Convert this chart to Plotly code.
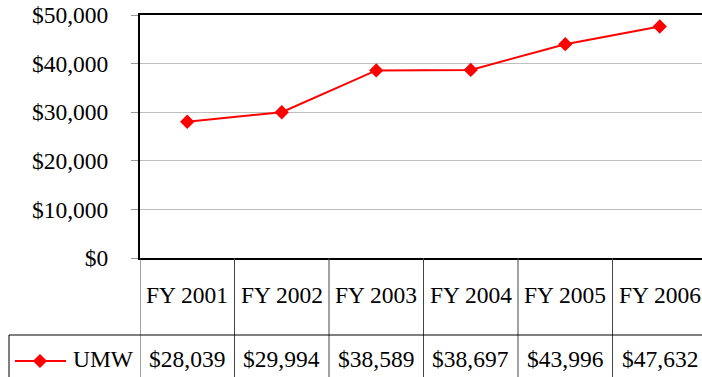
import plotly.graph_objects as go

# Fiscal years and UMW values
years = ["FY 2001", "FY 2002", "FY 2003", "FY 2004", "FY 2005", "FY 2006"]
umw = [28039, 29994, 38589, 38697, 43996, 47632]
series_name = "UMW"
y_ticks = [0, 10000, 20000, 30000, 40000, 50000]

W, H = 702, 377
FONT = dict(family="'Liberation Serif', 'Times New Roman', Times, serif",
            size=23.5, color="black")
RED = "#ff0000"

# pixel layout of the plot area and the data table beneath it
plot_left, plot_top, plot_bottom = 140, 15, 258
col_w = 94.5
row_split = 335
header_y, value_y = 295, 359


def px(x):
    return x / W


def py(y):
    return 1 - y / H


idx = list(range(len(years)))

fig = go.Figure()
fig.add_trace(go.Scatter(
    x=idx, y=umw, mode="lines+markers", name=series_name,
    line=dict(color=RED, width=2),
    marker=dict(symbol="diamond", size=11, color=RED),
    showlegend=False, cliponaxis=False,
))

x_max = -0.5 + (W - plot_left) / col_w

shapes = []
# vertical column dividers of the table
for k in range(len(years)):
    shapes.append(dict(type="line", xref="x", yref="paper",
                       x0=k - 0.5, x1=k - 0.5, y0=py(plot_bottom), y1=0,
                       line=dict(color="#444444", width=1)))
# row divider and legend cell border
shapes.append(dict(type="line", xref="paper", yref="paper",
                   x0=px(9), x1=1, y0=py(row_split), y1=py(row_split),
                   line=dict(color="black", width=1)))
shapes.append(dict(type="line", xref="paper", yref="paper",
                   x0=px(9), x1=px(9), y0=py(row_split), y1=0,
                   line=dict(color="black", width=1)))
# legend key: line with a diamond
shapes.append(dict(type="line", xref="paper", yref="paper",
                   x0=px(15), x1=px(66), y0=py(361), y1=py(361),
                   line=dict(color=RED, width=2)))
cx, cy, r = 40, 361, 6.8
shapes.append(dict(
    type="path", xref="paper", yref="paper",
    path=(f"M{px(cx - r)},{py(cy)} L{px(cx)},{py(cy - r)} "
          f"L{px(cx + r)},{py(cy)} L{px(cx)},{py(cy + r)} Z"),
    fillcolor=RED, line=dict(color=RED, width=0.5)))

annotations = []
for i, (yr, v) in enumerate(zip(years, umw)):
    annotations.append(dict(x=i, y=py(header_y), xref="x", yref="paper",
                             text=yr, showarrow=False, font=FONT,
                             xanchor="center", yanchor="middle"))
    annotations.append(dict(x=i, y=py(value_y), xref="x", yref="paper",
                             text=f"${v:,}", showarrow=False, font=FONT,
                             xanchor="center", yanchor="middle"))
annotations.append(dict(x=px(71), y=py(value_y), xref="paper", yref="paper",
                        text=series_name, showarrow=False, font=FONT,
                        xanchor="left", yanchor="middle"))

fig.update_layout(
    template="none",
    width=W, height=H,
    margin=dict(l=0, r=0, t=0, b=0, autoexpand=False),
    paper_bgcolor="white", plot_bgcolor="white",
    font=FONT,
    showlegend=False,
    shapes=shapes,
    annotations=annotations,
    xaxis=dict(
        domain=[px(plot_left), 1],
        range=[-0.5, x_max],
        automargin=False,
        showticklabels=False, showgrid=False, zeroline=False,
        showline=True, linecolor="black", linewidth=2, mirror=True,
        ticks="",
    ),
    yaxis=dict(
        domain=[py(plot_bottom), py(plot_top)],
        range=[0, 50000],
        automargin=False,
        tickvals=y_ticks,
        tickformat="$,.0f",
        tickfont=FONT,
        ticks="outside", ticklen=7, tickcolor="#999999", tickwidth=1,
        ticklabelstandoff=18,
        showgrid=True, gridcolor="#bfbfbf", gridwidth=1,
        zeroline=False,
        showline=True, linecolor="black", linewidth=2,
    ),
)

fig.write_html("out.html")
